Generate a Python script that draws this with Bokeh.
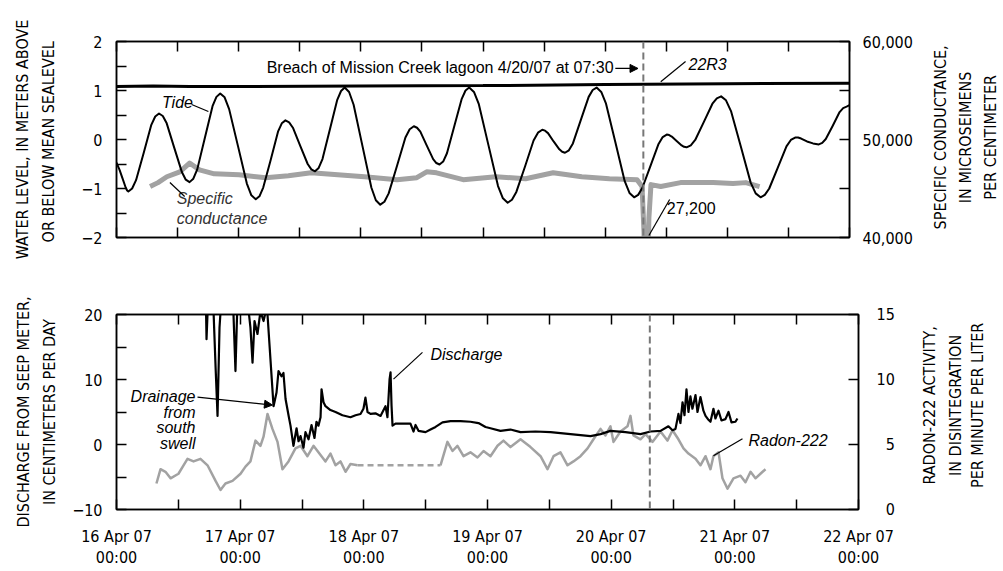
import math
from bokeh.plotting import figure
from bokeh.models import Range1d, LinearAxis, FixedTicker, Span, Label, Arrow, NormalHead
from bokeh.layouts import column, row
from bokeh.embed import file_html
from bokeh.resources import INLINE
from bokeh.core.properties import value

# ---------------- data (x in days since 16 Apr 2007 00:00) ----------------
x_tick_days = [0, 1, 2, 3, 4, 5, 6]
x_tick_labels = ["16 Apr 07\n00:00", "17 Apr 07\n00:00", "18 Apr 07\n00:00", "19 Apr 07\n00:00",
                 "20 Apr 07\n00:00", "21 Apr 07\n00:00", "22 Apr 07\n00:00"]

tide_day = [0.000, 0.025, 0.050, 0.075, 0.087,
            0.097, 0.128, 0.160, 0.223, 0.285, 0.317,
            0.348, 0.379, 0.411, 0.473, 0.536, 0.567,
            0.598, 0.629, 0.661, 0.724, 0.786, 0.818,
            0.849, 0.885, 0.922, 0.995, 1.067, 1.104,
            1.140, 1.170, 1.201, 1.262, 1.322, 1.353,
            1.383, 1.413, 1.444, 1.504, 1.565, 1.595,
            1.625, 1.655, 1.686, 1.747, 1.807, 1.838,
            1.868, 1.904, 1.941, 2.014, 2.086, 2.123,
            2.159, 2.193, 2.228, 2.297, 2.365, 2.400,
            2.434, 2.460, 2.487, 2.539, 2.592, 2.618,
            2.644, 2.674, 2.705, 2.766, 2.826, 2.857,
            2.887, 2.926, 2.966, 3.045, 3.123, 3.163,
            3.202, 3.237, 3.273, 3.344, 3.414, 3.450,
            3.485, 3.508, 3.532, 3.578, 3.625, 3.648,
            3.671, 3.703, 3.736, 3.801, 3.865, 3.898,
            3.930, 3.968, 4.007, 4.084, 4.160, 4.199,
            4.237, 4.270, 4.304, 4.371, 4.437, 4.471,
            4.504, 4.524, 4.545, 4.585, 4.626, 4.646,
            4.666, 4.701, 4.737, 4.808, 4.878, 4.914,
            4.949, 4.989, 5.030, 5.111, 5.191, 5.232,
            5.272, 5.307, 5.343, 5.414, 5.484, 5.520,
            5.555, 5.579, 5.604, 5.652, 5.701, 5.725,
            5.749, 5.777, 5.806, 5.863, 5.919, 5.948,
            5.976, 6.000]
tide_m = [-0.47, -0.62, -0.80, -0.98, -1.04,
          -1.06, -1.00, -0.83, -0.27, 0.30, 0.47,
          0.53, 0.48, 0.33, -0.17, -0.67, -0.82,
          -0.87, -0.80, -0.61, 0.04, 0.68, 0.87,
          0.94, 0.86, 0.62, -0.14, -0.90, -1.14,
          -1.22, -1.16, -0.98, -0.42, 0.16, 0.33,
          0.39, 0.35, 0.24, -0.13, -0.50, -0.61,
          -0.65, -0.58, -0.40, 0.21, 0.81, 0.99,
          1.06, 0.97, 0.71, -0.14, -0.98, -1.24,
          -1.33, -1.27, -1.10, -0.53, 0.04, 0.21,
          0.27, 0.24, 0.16, -0.12, -0.40, -0.48,
          -0.51, -0.45, -0.28, 0.28, 0.83, 1.00,
          1.06, 0.97, 0.72, -0.12, -0.95, -1.20,
          -1.29, -1.23, -1.07, -0.55, -0.02, 0.14,
          0.20, 0.18, 0.13, -0.04, -0.20, -0.25,
          -0.27, -0.22, -0.08, 0.40, 0.87, 1.01,
          1.06, 0.97, 0.73, -0.06, -0.85, -1.09,
          -1.18, -1.13, -0.99, -0.54, -0.09, 0.05,
          0.10, 0.09, 0.06, -0.03, -0.12, -0.15,
          -0.16, -0.12, -0.01, 0.36, 0.73, 0.84,
          0.88, 0.80, 0.58, -0.15, -0.88, -1.10,
          -1.18, -1.13, -1.00, -0.57, -0.14, -0.01,
          0.04, 0.04, 0.02, -0.04, -0.08, -0.09,
          -0.10, -0.07, 0.01, 0.28, 0.56, 0.64,
          0.67, 0.70]

sc_day = [0.275, 0.340, 0.412, 0.518, 0.598, 0.679, 0.800, 1.003, 1.221, 1.407,
          1.593, 1.811, 2.030, 2.296, 2.458, 2.539, 2.620, 2.838, 3.105, 3.348,
          3.574, 3.809, 4.035, 4.261, 4.302, 4.318, 4.334, 4.358, 4.375, 4.455,
          4.617, 4.884, 5.046, 5.151, 5.264]
sc_us = [45200, 45600, 46200, 46700, 47600, 46900, 46500, 46400, 46100, 46300,
         46600, 46400, 46200, 45900, 46100, 46700, 46600, 45900, 46200, 46000,
         46600, 46200, 46000, 45900, 45200, 40500, 27200, 42000, 45400, 45200,
         45600, 45600, 45500, 45600, 45200]

well_22r3_day = [0.0, 0.3, 0.6, 1.0, 2.0, 3.0, 4.0, 5.0, 6.0]
well_22r3_us = [55400, 55450, 55400, 55400, 55450, 55500, 55600, 55700, 55750]

discharge_day = [0.720, 0.728, 0.744, 0.776, 0.801, 0.817, 0.833, 0.857, 0.906, 0.946,
                 0.962, 0.978, 1.043, 1.083, 1.100, 1.116, 1.140, 1.164, 1.189, 1.213,
                 1.221, 1.270, 1.294, 1.310, 1.334, 1.350, 1.367, 1.391, 1.407, 1.431,
                 1.456, 1.472, 1.488, 1.512, 1.528, 1.553, 1.577, 1.601, 1.617, 1.633,
                 1.650, 1.658, 1.674, 1.690, 1.730, 1.771, 1.827, 1.892, 1.933, 1.973,
                 1.997, 2.013, 2.030, 2.054, 2.094, 2.135, 2.175, 2.191, 2.208, 2.216,
                 2.224, 2.232, 2.256, 2.377, 2.402, 2.418, 2.442, 2.499, 2.539, 2.580,
                 2.636, 2.701, 2.782, 2.862, 2.927, 2.984, 3.024, 3.105, 3.186, 3.267,
                 3.388, 3.510, 3.671, 3.833, 3.914, 3.994, 4.116, 4.237, 4.318, 4.399,
                 4.463, 4.496, 4.520, 4.544, 4.560, 4.577, 4.593, 4.609, 4.625, 4.641,
                 4.657, 4.682, 4.698, 4.722, 4.746, 4.763, 4.787, 4.803, 4.827, 4.843,
                 4.868, 4.892, 4.924, 4.949, 4.973, 5.005, 5.021]
discharge_cm = [25.0, 16.2, 24.0, 25.0, 12.0, 4.4, 18.0, 25.0, 25.0, 20.0,
                11.3, 22.0, 25.0, 18.0, 12.6, 19.0, 17.0, 20.5, 19.0, 21.0,
                20.0, 5.9, 8.0, 11.3, 10.5, 11.0, 7.0, 4.5, 2.9, -0.2,
                2.5, 0.5, 1.3, -0.5, 1.9, 0.8, 3.0, 1.0, 3.5, 2.9,
                4.2, 8.5, 6.5, 5.9, 5.3, 5.0, 4.5, 4.2, 4.5, 4.7,
                5.5, 7.2, 5.0, 4.7, 4.8, 4.4, 5.9, 4.2, 10.0, 11.1,
                6.0, 2.9, 3.2, 3.2, 2.0, 3.0, 2.1, 1.9, 2.3, 2.7,
                3.4, 3.6, 3.6, 3.5, 3.3, 2.7, 2.5, 2.1, 2.3, 1.9,
                2.0, 1.9, 1.6, 1.3, 1.6, 2.1, 1.9, 1.6, 2.0, 2.1,
                2.8, 2.2, 2.4, 4.7, 3.3, 6.5, 4.5, 8.5, 5.0, 7.4,
                5.5, 7.6, 5.0, 7.3, 5.2, 4.4, 3.8, 3.5, 5.5, 4.0,
                5.2, 3.7, 3.9, 5.0, 3.4, 3.5, 4.0]

radon_a_day = [0.323, 0.356, 0.396, 0.437, 0.501, 0.542, 0.574, 0.623, 0.679, 0.736,
               0.801, 0.841, 0.881, 0.938, 1.003, 1.043, 1.083, 1.124, 1.164, 1.189,
               1.221, 1.261, 1.302, 1.342, 1.391, 1.447, 1.488, 1.544, 1.593, 1.633,
               1.690, 1.730, 1.771, 1.811, 1.852, 1.892, 1.949]
radon_a_dpm = [2.0, 3.1, 2.9, 2.4, 2.75, 3.4, 3.9, 3.7, 3.9, 3.4,
               2.2, 1.5, 2.0, 2.2, 2.75, 3.3, 3.7, 5.3, 4.9, 5.6,
               7.35, 6.2, 5.2, 3.1, 3.7, 4.7, 4.9, 4.1, 4.9, 4.4,
               3.7, 4.3, 3.4, 3.7, 2.9, 3.5, 3.4]
radon_b_day = [2.620, 2.676, 2.717, 2.757, 2.806, 2.862, 2.919, 2.968, 3.024, 3.081,
               3.129, 3.186, 3.267, 3.348, 3.429, 3.485, 3.534, 3.590, 3.647, 3.695,
               3.752, 3.809, 3.857, 3.914, 3.954, 3.994, 4.019, 4.075, 4.132, 4.156,
               4.180, 4.237, 4.278, 4.334, 4.399, 4.455, 4.496, 4.544, 4.585, 4.625,
               4.682, 4.722, 4.763, 4.803, 4.827, 4.868, 4.900, 4.941, 4.989, 5.046,
               5.086, 5.127, 5.167, 5.207, 5.248]
radon_b_dpm = [3.4, 5.2, 4.5, 4.9, 4.1, 4.4, 4.0, 4.5, 4.1, 4.9,
               5.3, 4.8, 5.4, 4.8, 4.1, 3.1, 4.1, 4.4, 3.4, 3.7,
               4.1, 4.7, 5.4, 6.2, 5.7, 6.4, 5.2, 6.0, 6.4, 7.2,
               5.7, 5.4, 5.8, 5.2, 6.0, 5.3, 6.1, 5.4, 4.7, 4.3,
               3.9, 3.4, 4.1, 3.1, 4.1, 4.4, 2.4, 1.6, 2.4, 2.6,
               2.1, 2.9, 2.4, 2.75, 3.1]

breach_day = 4.3125  # 4/20/07 07:30

top_right_title = ["SPECIFIC CONDUCTANCE,", "IN MICROSEIMENS", "PER CENTIMETER"]
bot_right_title = ["RADON-222 ACTIVITY,", "IN DISINTEGRATION", "PER MINUTE PER LITER"]

# ---------------- styling ----------------
COND = "DejaVu Sans Condensed"
SANS = "Liberation Sans"
GRAY = "#a2a2a2"
W_MAIN = 915
W_TITLE = 85

half_days = [i * 0.5 for i in range(13)]
blank_x = {d: "" for d in half_days}
x_overrides = dict(blank_x)
for d, lab in zip(x_tick_days, x_tick_labels):
    x_overrides[d] = lab


def style_axis(ax, label_size="16px"):
    ax.major_tick_in = 10
    ax.major_tick_out = 0
    ax.minor_tick_in = 0
    ax.minor_tick_out = 0
    ax.axis_line_color = "black"
    ax.axis_line_width = 1.5
    ax.major_tick_line_color = "black"
    ax.major_tick_line_width = 1.5
    ax.major_label_text_font = COND
    ax.major_label_text_font_size = label_size
    ax.major_label_text_color = "black"
    ax.axis_label_text_font = COND
    ax.axis_label_text_font_size = "16px"
    ax.axis_label_text_font_style = "normal"
    ax.axis_label_text_color = "black"
    ax.axis_label_text_line_height = 1.4


def base_fig(height, btop, bbot, y0, y1):
    p = figure(width=W_MAIN, height=height, x_range=Range1d(0, 6), y_range=Range1d(y0, y1),
               output_backend="svg", toolbar_location=None,
               min_border_left=116, min_border_right=W_MAIN - 116 - 742,
               min_border_top=btop, min_border_bottom=bbot)
    p.grid.visible = False
    p.outline_line_color = "black"
    p.outline_line_width = 1.5
    p.background_fill_color = "white"
    p.border_fill_color = "white"
    xb = p.below[0]
    xb.ticker = FixedTicker(ticks=half_days, minor_ticks=[])
    style_axis(xb)
    xb.major_label_overrides = blank_x
    xb.major_label_standoff = 0
    xa = LinearAxis(ticker=FixedTicker(ticks=half_days, minor_ticks=[]))
    style_axis(xa)
    xa.major_label_overrides = blank_x
    xa.major_label_standoff = 0
    p.add_layout(xa, "above")
    yl = p.left[0]
    style_axis(yl)
    p.add_layout(Span(location=breach_day, dimension="height", line_dash="7 4",
                      line_color="#777777", line_width=2))
    return p, xb, yl


def title_fig(height, yc, lines, xs):
    t = figure(width=W_TITLE, height=height, x_range=Range1d(0, W_TITLE), y_range=Range1d(0, height),
               output_backend="svg", toolbar_location=None, min_border=0,
               x_axis_type=None, y_axis_type=None, outline_line_color=None)
    t.grid.visible = False
    t.text(x=xs, y=[yc] * len(lines), text=lines, angle=math.pi / 2, text_align="center",
           text_baseline="middle", text_font=value(COND), text_font_size=value("16px"),
           text_color="black")
    return t


def note(p, x, y, text, italic=True, align="left", size="16px", color="black"):
    p.add_layout(Label(x=x, y=y, text=text, text_font=SANS, text_font_size=size,
                       text_font_style="italic" if italic else "normal", text_color=color,
                       text_align=align, text_baseline="middle"))


def leader(p, x0, y0, x1, y1, head=False):
    end = NormalHead(size=8, fill_color="black", line_color="black", line_width=1) if head else None
    p.add_layout(Arrow(x_start=x0, y_start=y0, x_end=x1, y_end=y1, end=end,
                       line_color="black", line_width=1.2))


# ---------------- top panel ----------------
TOP_H = 276
top, tx, ly = base_fig(TOP_H, 41, 39, -2, 2)
top.extra_y_ranges = {"sc": Range1d(40000, 60000)}

ly.ticker = FixedTicker(ticks=[-2, -1.5, -1, -0.5, 0, 0.5, 1, 1.5, 2], minor_ticks=[])
ly.major_label_overrides = {-2: "\u22122", -1.5: "", -1: "\u22121", -0.5: "", 0: "0",
                            0.5: "", 1: "1", 1.5: "", 2: "2"}
ly.major_label_standoff = 14
ly.axis_label = "WATER LEVEL, IN METERS ABOVE\nOR BELOW  MEAN SEALEVEL"
ly.axis_label_standoff = 20

ry = LinearAxis(y_range_name="sc", ticker=FixedTicker(ticks=[40000, 45000, 50000, 55000, 60000], minor_ticks=[]))
style_axis(ry)
ry.major_label_overrides = {40000: "40,000", 45000: "", 50000: "50,000", 55000: "", 60000: "60,000"}
ry.major_label_standoff = 13
top.add_layout(ry, "right")

top.line(well_22r3_day, well_22r3_us, y_range_name="sc", line_color="black", line_width=3)
top.line(sc_day, sc_us, y_range_name="sc", line_color=GRAY, line_width=5, line_join="round")
top.line(tide_day, tide_m, line_color="black", line_width=2, line_join="round")

note(top, 1.229, 1.47, "Breach of Mission Creek lagoon 4/20/07 at 07:30", italic=False)
leader(top, 4.083, 1.45, 4.269, 1.45, head=True)
note(top, 4.682, 1.53, "22R3")
leader(top, 4.455, 1.18, 4.658, 1.59)
note(top, 0.372, 0.755, "Tide")
leader(top, 0.615, 0.714, 0.752, 0.571)
note(top, 0.493, -1.204, "Specific", color="#333333")
note(top, 0.493, -1.61, "conductance", color="#333333")
leader(top, 0.437, -0.878, 0.558, -1.163)
note(top, 4.504, -1.388, "27,200", italic=False)
leader(top, 4.358, -1.959, 4.528, -1.224)

top_t = title_fig(TOP_H, TOP_H - 135, top_right_title, [25, 50, 75])

# ---------------- bottom panel ----------------
BOT_H = 294
bot, bx, by = base_fig(BOT_H, 38, 60, -10, 20)
bot.extra_y_ranges = {"radon": Range1d(0, 15)}
bx.major_label_overrides = x_overrides
bx.major_label_standoff = 17
bx.major_label_text_line_height = 1.15

by.ticker = FixedTicker(ticks=[-10, -5, 0, 5, 10, 15, 20], minor_ticks=[])
by.major_label_overrides = {-10: "\u221210", -5: "", 0: "0", 5: "", 10: "10", 15: "", 20: "20"}
by.major_label_standoff = 14
by.axis_label = "DISCHARGE FROM SEEP METER,\nIN CENTIMETERS PER DAY"
by.axis_label_standoff = 10

rr = LinearAxis(y_range_name="radon", ticker=FixedTicker(ticks=[0, 5, 10, 15], minor_ticks=[]))
style_axis(rr)
rr.major_label_overrides = {0: "\u20070", 5: "\u20075", 10: "10", 15: "15"}
rr.major_label_standoff = 18
bot.add_layout(rr, "right")

bot.line(radon_a_day, radon_a_dpm, y_range_name="radon", line_color=GRAY, line_width=2.5, line_join="round")
bot.line(radon_b_day, radon_b_dpm, y_range_name="radon", line_color=GRAY, line_width=2.5, line_join="round")
bot.line([radon_a_day[-1], radon_b_day[0]], [radon_a_dpm[-1], radon_b_dpm[0]], y_range_name="radon",
         line_color=GRAY, line_width=2.5, line_dash="6 4")
bot.line(discharge_day, discharge_cm, line_color="black", line_width=2.2, line_join="round")

note(bot, 2.539, 13.88, "Discharge")
leader(bot, 2.240, 10.05, 2.474, 14.18)
for txt, yy in zip(["Drainage", "from", "south", "swell"], [7.45, 5.0, 2.55, 0.1]):
    note(bot, 0.639, yy, txt, align="right")
leader(bot, 0.655, 7.3, 1.261, 6.07, head=True)
note(bot, 5.110, 0.56, "Radon-222")
leader(bot, 4.827, -1.74, 5.062, 0.87)

bot_t = title_fig(BOT_H, BOT_H - 137, bot_right_title, [14, 40, 62])

layout = column(row(top, top_t), row(bot, bot_t))
open("out.html", "w").write(file_html(layout, INLINE))
